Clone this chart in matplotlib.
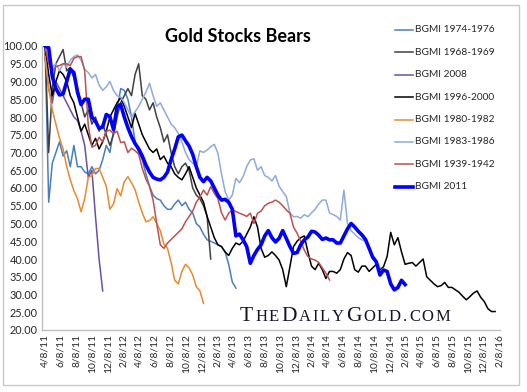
import matplotlib
matplotlib.use("Agg")
import matplotlib.pyplot as plt
from matplotlib.patches import Rectangle
from matplotlib.lines import Line2D
import pandas as pd

plt.rcParams['font.family'] = ['Lato', 'DejaVu Sans']

# ---------------- data (2-week steps from 4/8/11) ----------------
start_date = "2011-04-08"
step_days = 14

bgmi_1974_1976 = [100, 56, 67, 70, 73, 69, 70.5, 66, 72, 66, 66, 64.5, 64, 66, 64, 65, 68, 72, 70, 76,
                  82, 88, 87.5, 85, 80, 73, 70, 68, 64, 60.5, 58, 57, 56.6, 55, 54, 54, 55.5, 56.6, 55, 56,
                  54, 53, 50, 49, 47, 45.4, 45, 44.5, 44, 43.5, 42, 38.5, 33.5, 31.8]

bgmi_1968_1969 = [100, 70, 88, 95, 97, 99, 93, 94, 91, 88, 84, 80, 82, 78, 80, 76, 78, 75, 72, 75,
                  80, 84, 86, 88, 86, 92, 95, 86, 85, 82, 84, 80, 77, 73, 75, 70, 66, 64, 66, 67,
                  65, 60, 58, 57, 55, 52, 40]

bgmi_2008 = [97, 88, 84, 90, 88, 86, 84, 82, 80, 79, 76, 72, 63, 65, 52, 40, 31]

bgmi_1996_2000 = [100, 92, 86, 90, 93, 92, 90, 86, 84, 80, 76, 78, 75, 72, 74, 71, 73, 76, 80, 82,
                  84, 85.5, 83, 80, 77, 81, 78, 75, 73, 71, 70, 71, 68, 69, 67, 66, 64, 63, 62.3, 64,
                  66, 63, 60, 58, 56, 52, 49, 46, 44, 43.5, 42, 41, 43, 44.5, 44, 45, 47, 49, 51.9, 49,
                  43, 40.5, 41, 42, 41, 39.7, 37, 32.2, 37.8, 43.5, 45, 46, 46.5, 42, 38, 37, 38.8, 37, 34.5, 36.5,
                  36.5, 36, 37, 40, 41.8, 41, 37, 36.3, 38, 38, 36.5, 37.5, 38.5, 37, 37.8, 40.7, 47.5, 44, 46, 42,
                  38.5, 38.8, 39, 38, 39, 40, 35, 34, 33, 32.2, 32.5, 33.4, 32, 32, 31.3, 30.6, 29.5, 28.5, 29.4, 30.4,
                  31, 29.2, 28, 26, 25.2, 25.2]

bgmi_1980_1982 = [97, 88, 82, 78, 74, 71, 66, 62.3, 59.2, 57, 53.3, 57, 63, 63.5, 65.5, 65.5, 63, 60.5, 54, 55.5,
                  59.8, 57.8, 61.8, 63.2, 61.5, 59.5, 56, 53, 50.5, 50.8, 51.9, 50, 48, 44.2, 43, 39, 34, 33, 36.5, 38.5,
                  37.5, 35.5, 32.2, 31, 27.5]

bgmi_1983_1986 = [100, 96, 94, 95, 93, 95, 94, 96, 97, 97.5, 96, 93.5, 92.5, 91, 92, 89, 87.5, 88.5, 90, 87.5,
                  86, 85.5, 84, 82, 80, 81.5, 83, 85, 87, 89.5, 86, 83, 84, 82, 80, 78, 77, 75.4, 73, 70,
                  68, 67, 66, 70.5, 70, 70.7, 71.6, 72.3, 69.8, 64, 59, 56.6, 58, 62.7, 61.5, 63.2, 66, 67.9, 68.2, 65,
                  66, 63.5, 63, 62, 63.5, 60.5, 59, 57.6, 53, 51.9, 52, 51.5, 52.5, 51.9, 53, 54, 55.5, 56.6, 56.6, 53,
                  52.5, 52, 51, 59.4, 50, 48, 47, 46, 45.4, 45, 43, 41, 39.5, 37.5]

bgmi_1939_1942 = [100, 95, 93, 94.2, 94.5, 95, 95, 94.5, 96.5, 97, 97, 93, 77.5, 71.5, 72, 74.3, 73, 76, 76.3, 75.3,
                  76, 72.8, 73, 70, 71.2, 70.5, 69.5, 65.5, 62.5, 60.5, 56.6, 50, 44, 43, 44.5, 45.5, 46.5, 47.5, 48.5, 50.5,
                  52, 53.5, 56, 57.5, 59.4, 58, 60.4, 58.5, 57, 53, 51, 52.9, 53.8, 53.4, 52.9, 52.5, 52, 52.9, 50, 52.9,
                  53.5, 55, 55.7, 56, 56.6, 56, 55, 53.8, 52.9, 49, 47.3, 45, 42.5, 40.7, 40, 39.7, 39, 37.5, 36, 34.1]

bgmi_2011 = [100, 99.5, 91.4, 88, 86.2, 86.5, 90, 93.5, 92.5, 87, 83.5, 85, 85, 80, 78.8, 76.8, 77.2, 80.7, 80.1, 76.5,
             82.9, 83.5, 80, 77, 74.5, 72.5, 71, 69, 66.5, 64.5, 63, 62.5, 62.3, 63, 64.5, 68, 71, 74.4, 74.9, 73.3,
             71.8, 69.5, 66, 63, 61.8, 63, 62, 60, 58, 56.6, 56.8, 56, 54, 46.5, 47, 45.4, 43.5, 38.8, 41, 42.7,
             44, 46.5, 48, 46, 44.8, 45.8, 48, 45.8, 43.5, 41.6, 41.8, 44, 45.4, 46.2, 47.8, 47.6, 46.7, 45.5, 45.9, 45.4,
             45.4, 44.5, 44.5, 46.5, 48.5, 50, 49, 47.8, 46.8, 45.5, 43, 40.5, 39.2, 35.5, 36.9, 36.5, 33, 31.3, 32, 34,
             32.8]

series_labels = ["BGMI 1974-1976", "BGMI 1968-1969", "BGMI 2008", "BGMI 1996-2000",
                 "BGMI 1980-1982", "BGMI 1983-1986", "BGMI 1939-1942", "BGMI 2011"]
series_values = [bgmi_1974_1976, bgmi_1968_1969, bgmi_2008, bgmi_1996_2000,
                 bgmi_1980_1982, bgmi_1983_1986, bgmi_1939_1942, bgmi_2011]

tick_labels = ['4/8/11', '6/8/11', '8/8/11', '10/8/11', '12/8/11', '2/8/12', '4/8/12', '6/8/12',
               '8/8/12', '10/8/12', '12/8/12', '2/8/13', '4/8/13', '6/8/13', '8/8/13', '10/8/13',
               '12/8/13', '2/8/14', '4/8/14', '6/8/14', '8/8/14', '10/8/14', '12/8/14', '2/8/15',
               '4/8/15', '6/8/15', '8/8/15', '10/8/15', '12/8/15', '2/8/16']
y_ticks = [20, 25, 30, 35, 40, 45, 50, 55, 60, 65, 70, 75, 80, 85, 90, 95, 100]

title_text = "Gold Stocks Bears"
watermark_parts = [("T", True), ("HE", False), ("D", True), ("AILY", False),
                   ("G", True), ("OLD.COM", False)]

# ---------------- styles ----------------
colors = ["#4A7EBB", "#404040", "#6B4FA0", "#000000", "#E98A2E", "#8FAADC", "#C0504D", "#0000FF"]
widths = [1.1, 1.1, 1.1, 1.1, 1.1, 1.1, 1.1, 2.6]

fig = plt.figure(figsize=(5.27, 3.92), dpi=100)
W, H = 527, 392
fig.patches.append(Rectangle((3 / W, 1 - 385 / H), 516 / W, 380 / H, transform=fig.transFigure,
                             fill=False, edgecolor="#C8C8C8", linewidth=1.0))
ax = fig.add_axes([42 / W, 1 - 330 / H, 458 / W, 284 / H])

start = pd.Timestamp(start_date)
for vals, lab, c, lw in zip(series_values, series_labels, colors, widths):
    dates = [start + pd.Timedelta(days=step_days * i) for i in range(len(vals))]
    ax.plot(dates, vals, color=c, lw=lw, label=lab, solid_joinstyle='round')

tick_dates = [pd.to_datetime(t, format="%m/%d/%y") for t in tick_labels]
ax.set_xticks(tick_dates)
ax.set_xticklabels(tick_labels, rotation=90, fontsize=7.4, color="#262626")
ax.set_xlim(pd.Timestamp("2011-03-27"), pd.Timestamp("2016-02-10"))
ax.set_ylim(20, 100)
ax.set_yticks(y_ticks)
ax.set_yticklabels([f"{v:.2f}" for v in y_ticks], fontsize=7.8, color="#262626")
ax.tick_params(axis='both', length=0, pad=3)
for s in ['top', 'right']:
    ax.spines[s].set_visible(False)
for s in ['left', 'bottom']:
    ax.spines[s].set_color("#BFBFBF")
    ax.spines[s].set_linewidth(1.0)

fig.text(238 / W, 1 - 37 / H, title_text, ha='center', va='center', fontsize=13,
         fontweight='bold', color='black')

# legend (manual placement to match the original spacing)
for i, (lab, c, lw) in enumerate(zip(series_labels, colors, widths)):
    yy = 1 - (30 + 22.4 * i) / H
    fig.add_artist(Line2D([395 / W, 413 / W], [yy, yy], transform=fig.transFigure,
                          color=c, lw=lw))
    fig.text(415 / W, yy, lab, fontsize=7.3, color="#262626", ha='left', va='center')

# watermark with small caps and letter spacing
fig.canvas.draw()
renderer = fig.canvas.get_renderer()
x = 240.0
base_y = 1 - 321 / H
tracking = 1.9
for txt, big in watermark_parts:
    for ch in txt:
        t = fig.text(x / W, base_y, ch, fontsize=15.5 if big else 12, family='Liberation Serif',
                     color='#15152a', ha='left', va='baseline')
        bb = t.get_window_extent(renderer=renderer)
        x += bb.width + tracking

fig.savefig("out.png", dpi=100)
